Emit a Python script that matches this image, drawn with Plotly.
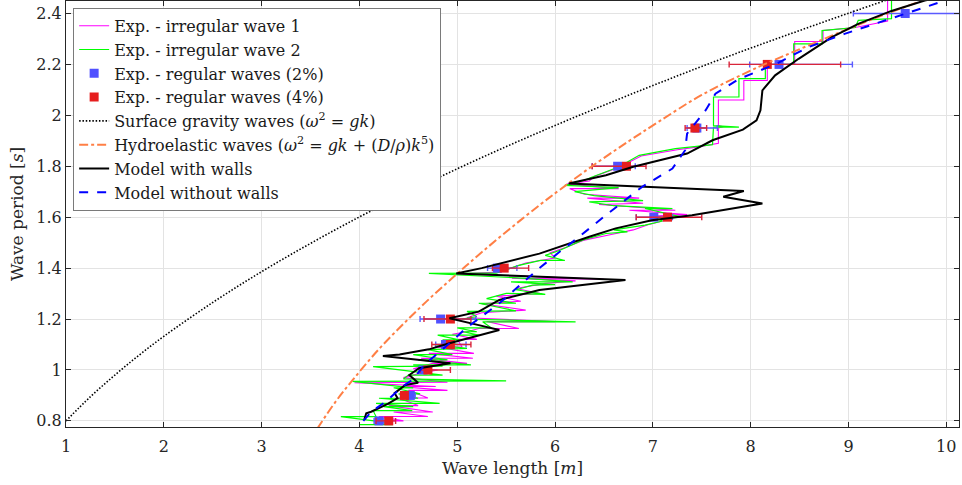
import plotly.graph_objects as go

# ---------------- data ----------------
# Experiments - irregular wave 1 (magenta)
irr1_len = [4.15, 4.45, 4.20, 4.70, 4.35, 4.75, 4.30, 4.60, 4.40, 4.70, 4.50, 4.90, 4.40, 4.78,
            3.95, 4.90, 4.45, 4.60, 4.80, 4.55, 4.75, 5.10, 4.63, 5.16, 4.71, 5.17, 4.80, 5.05,
            5.00, 5.20, 4.95, 5.10, 5.22, 5.63, 5.30, 6.00, 5.10, 5.25, 5.70, 5.25, 5.65, 5.40,
            5.85, 5.60, 5.90, 6.21, 5.56, 6.50, 5.00, 5.45, 5.55, 5.70, 6.00, 5.95, 6.10, 6.30,
            6.55, 6.80, 6.95, 7.15, 7.05, 7.35, 6.76, 7.23, 6.80, 6.45, 6.90, 6.33, 6.86, 6.30,
            6.15, 6.65, 6.12, 6.35, 6.40, 6.65, 6.88, 7.25, 7.45, 7.67, 7.67, 7.72, 7.67, 7.67,
            7.93, 7.93, 8.17, 8.17, 8.45, 8.45, 8.74, 8.74, 9.07, 9.40, 9.40]
irr1_T = [0.800, 0.800, 0.817, 0.817, 0.835, 0.835, 0.860, 0.860, 0.890, 0.890, 0.920, 0.920, 0.935, 0.935,
          0.950, 0.952, 0.970, 0.985, 1.000, 1.005, 1.026, 1.026, 1.046, 1.046, 1.065, 1.065, 1.090, 1.090,
          1.120, 1.120, 1.140, 1.150, 1.163, 1.163, 1.190, 1.190, 1.205, 1.225, 1.235, 1.260, 1.270, 1.290,
          1.300, 1.320, 1.340, 1.350, 1.360, 1.356, 1.378, 1.385, 1.400, 1.420, 1.440, 1.460, 1.480, 1.510,
          1.530, 1.550, 1.570, 1.590, 1.605, 1.610, 1.627, 1.627, 1.640, 1.650, 1.655, 1.675, 1.675, 1.690,
          1.712, 1.712, 1.730, 1.742, 1.760, 1.795, 1.840, 1.865, 1.875, 1.890, 1.950, 1.955, 1.960, 2.060,
          2.060, 2.137, 2.137, 2.200, 2.200, 2.290, 2.290, 2.333, 2.345, 2.370, 2.460]

# Experiments - irregular wave 2 (green)
irr2_len = [4.00, 4.34, 4.15, 3.81, 4.17, 4.14, 4.54, 4.25, 4.55, 4.17, 4.82, 4.20, 4.60, 4.40,
            4.62, 4.35, 4.55, 3.93, 5.50, 4.45, 4.50, 4.85, 4.14, 4.85, 4.55, 5.14, 4.60, 4.90,
            4.55, 4.95, 4.70, 5.10, 4.75, 5.00, 4.85, 5.02, 4.80, 5.22, 5.06, 5.20, 5.00, 5.35,
            5.26, 6.21, 5.05, 5.20, 5.10, 5.60, 5.22, 5.60, 5.30, 5.50, 5.90, 5.60, 5.77, 6.00,
            5.55, 6.18, 5.70, 4.71, 5.40, 5.50, 5.62, 5.85, 6.10, 5.90, 6.05, 6.28, 6.52, 6.74,
            6.60, 6.92, 7.10, 7.00, 7.30, 6.92, 7.20, 6.60, 6.35, 6.90, 6.40, 6.20, 6.65, 6.10,
            6.30, 6.38, 6.65, 6.86, 7.23, 7.40, 7.61, 7.62, 7.88, 7.62, 7.62, 7.88, 7.88, 8.15,
            8.15, 8.44, 8.44, 8.73, 8.73, 9.07, 9.10, 9.44, 9.44, 9.64]
irr2_T = [0.785, 0.785, 0.800, 0.817, 0.817, 0.840, 0.840, 0.856, 0.856, 0.869, 0.869, 0.889, 0.889, 0.906,
          0.906, 0.930, 0.930, 0.955, 0.957, 0.965, 0.980, 0.980, 1.013, 1.015, 1.020, 1.020, 1.040, 1.040,
          1.060, 1.060, 1.080, 1.085, 1.100, 1.100, 1.118, 1.118, 1.137, 1.137, 1.150, 1.150, 1.165, 1.165,
          1.189, 1.189, 1.200, 1.210, 1.230, 1.232, 1.262, 1.262, 1.280, 1.301, 1.297, 1.315, 1.333, 1.335,
          1.346, 1.346, 1.360, 1.379, 1.380, 1.395, 1.410, 1.430, 1.430, 1.450, 1.470, 1.510, 1.536, 1.542,
          1.550, 1.569, 1.585, 1.600, 1.600, 1.634, 1.634, 1.645, 1.660, 1.665, 1.685, 1.700, 1.716, 1.725,
          1.745, 1.758, 1.797, 1.843, 1.869, 1.876, 1.885, 1.954, 1.954, 1.960, 2.072, 2.072, 2.144, 2.144,
          2.200, 2.200, 2.281, 2.281, 2.333, 2.345, 2.373, 2.380, 2.451, 2.451]

# Experiments - regular waves
reg_T_2 = [0.8, 0.9, 1.0, 1.1, 1.2, 1.4, 1.6, 1.8, 1.95, 2.2, 2.4]
reg_len_2 = [4.20, 4.52, 4.65, 4.88, 4.83, 5.41, 7.01, 6.64, 7.45, 8.29, 9.58]
reg_err_minus_2 = [0.05, 0.10, 0.04, 0.10, 0.21, 0.10, 0.18, 0.26, 0.10, 0.30, 0.53]
reg_err_plus_2 = [0.05, 0.05, 0.05, 0.21, 0.36, 0.20, 0.19, 0.18, 0.21, 0.75, 0.70]

reg_T_4 = [0.8, 0.9, 1.0, 1.1, 1.2, 1.4, 1.6, 1.8, 1.95, 2.2]
reg_len_4 = [4.30, 4.46, 4.70, 4.93, 4.93, 5.48, 7.15, 6.73, 7.43, 8.17]
reg_err_minus_4 = [0.13, 0.03, 0.08, 0.19, 0.27, 0.12, 0.32, 0.35, 0.10, 0.39]
reg_err_plus_4 = [0.07, 0.03, 0.23, 0.21, 0.21, 0.25, 0.35, 0.20, 0.12, 0.75]

# Surface gravity waves
grav_len = [1.0, 1.25, 1.5, 1.75, 2.0, 2.5, 3.0, 3.5, 4.0, 4.5, 5.0, 5.5, 6.0, 6.5, 7.0, 7.5, 8.0, 8.5, 9.0, 9.5]
grav_T = [0.800, 0.895, 0.980, 1.059, 1.132, 1.265, 1.386, 1.497, 1.601, 1.698, 1.790, 1.877, 1.960, 2.040,
          2.117, 2.192, 2.264, 2.333, 2.401, 2.467]

# Hydroelastic waves
hydro_len = [3.57, 3.75, 3.93, 4.20, 4.50, 4.75, 5.00, 5.25, 5.55, 5.85, 6.05, 6.40, 6.76, 7.06, 7.50,
             8.08, 8.49, 8.90, 9.30, 9.75]
hydro_T = [0.770, 0.872, 0.960, 1.082, 1.200, 1.292, 1.378, 1.462, 1.558, 1.650, 1.708, 1.806, 1.900, 1.975,
           2.080, 2.190, 2.258, 2.324, 2.386, 2.450]

# Model with walls
walls_len = [4.05, 4.07, 4.12, 4.29, 4.39, 4.36, 4.47, 4.60, 4.51, 4.61, 4.93, 4.24, 4.41, 4.71, 4.92,
             5.43, 5.22, 4.92, 5.22, 5.43, 5.84, 6.72, 4.99, 5.25, 5.84, 6.14, 6.35, 6.62, 6.99, 7.40,
             8.12, 7.72, 7.93, 6.14, 6.52, 6.80, 7.35, 7.61, 7.92, 8.06, 8.10, 8.12, 8.25, 8.49, 8.83,
             9.10, 9.44, 9.78, 10.10]
walls_T = [0.805, 0.830, 0.836, 0.867, 0.889, 0.909, 0.941, 0.950, 0.980, 1.007, 1.026, 1.055, 1.061, 1.081,
           1.105, 1.157, 1.176, 1.203, 1.229, 1.275, 1.314, 1.353, 1.379, 1.400, 1.457, 1.497, 1.523, 1.556,
           1.588, 1.608, 1.654, 1.680, 1.703, 1.732, 1.765, 1.798, 1.850, 1.902, 1.944, 1.980, 2.020, 2.098,
           2.157, 2.222, 2.307, 2.359, 2.410, 2.451, 2.475]

# Model without walls
nowalls_len = [4.04, 4.12, 4.27, 4.44, 4.54, 4.68, 4.88, 5.09, 5.43, 5.70, 5.84, 6.07, 6.18, 6.52, 6.89,
               7.20, 7.33, 7.35, 7.54, 7.64, 7.88, 8.25, 8.59, 8.96, 9.37, 9.58, 9.99, 10.20]
nowalls_T = [0.800, 0.836, 0.876, 0.935, 0.961, 1.026, 1.091, 1.164, 1.262, 1.353, 1.400, 1.471, 1.503, 1.608,
             1.719, 1.791, 1.863, 1.928, 2.020, 2.085, 2.143, 2.200, 2.268, 2.320, 2.373, 2.399, 2.451, 2.470]

x_ticks = [1, 2, 3, 4, 5, 6, 7, 8, 9, 10]
y_ticks = [0.8, 1.0, 1.2, 1.4, 1.6, 1.8, 2.0, 2.2, 2.4]
y_tick_labels = ["0.8", "1", "1.2", "1.4", "1.6", "1.8", "2", "2.2", "2.4"]

# ---------------- figure ----------------
FONT = "DejaVu Serif"
TXT = "#262626"
fig = go.Figure()

fig.add_trace(go.Scatter(x=irr1_len, y=irr1_T, mode="lines", name="Exp. - irregular wave 1",
                         line=dict(color="#ff00ff", width=1.1)))
fig.add_trace(go.Scatter(x=irr2_len, y=irr2_T, mode="lines", name="Exp. - irregular wave 2",
                         line=dict(color="#00ff00", width=1.2)))
fig.add_trace(go.Scatter(x=reg_len_2, y=reg_T_2, mode="markers", name="Exp. - regular waves (2%)",
                         marker=dict(symbol="square", size=9, color="#5050ff"),
                         error_x=dict(type="data", symmetric=False, array=reg_err_plus_2,
                                      arrayminus=reg_err_minus_2, color="#5a5aff", thickness=1.4, width=3)))
fig.add_trace(go.Scatter(x=reg_len_4, y=reg_T_4, mode="markers", name="Exp. - regular waves (4%)",
                         marker=dict(symbol="square", size=9, color="#e61e1e"),
                         error_x=dict(type="data", symmetric=False, array=reg_err_plus_4,
                                      arrayminus=reg_err_minus_4, color="#d9253a", thickness=1.4, width=3)))
fig.add_trace(go.Scatter(x=grav_len, y=grav_T, mode="lines", line_shape="spline",
                         name="Surface gravity waves (<i>ω</i><sup>2</sup> = <i>gk</i>)",
                         line=dict(color="black", width=1.6, dash="1.5px,1.8px")))
fig.add_trace(go.Scatter(x=hydro_len, y=hydro_T, mode="lines", line_shape="spline",
                         name="Hydroelastic waves (<i>ω</i><sup>2</sup> = <i>gk</i> + (<i>D</i>/<i>ρ</i>)<i>k</i><sup>5</sup>)",
                         line=dict(color="#ff7f45", width=2, dash="dashdot")))
fig.add_trace(go.Scatter(x=walls_len, y=walls_T, mode="lines", name="Model with walls",
                         line=dict(color="black", width=2)))
fig.add_trace(go.Scatter(x=nowalls_len, y=nowalls_T, mode="lines", name="Model without walls",
                         line=dict(color="#0000ff", width=2, dash="dash")))

axis_common = dict(showline=True, linecolor=TXT, linewidth=1, mirror="ticks",
                   ticks="inside", ticklen=5, tickcolor=TXT,
                   showgrid=True, gridcolor="#e3e3e3", gridwidth=1, zeroline=False,
                   automargin=False,
                   tickfont=dict(family=FONT, size=16, color=TXT))

fig.update_layout(
    width=962, height=485,
    margin=dict(l=66, r=3, t=1, b=58),
    paper_bgcolor="white", plot_bgcolor="white",
    font=dict(family=FONT, size=16, color=TXT),
    showlegend=True,
    legend=dict(x=0.008, y=0.984, xanchor="left", yanchor="top",
                bgcolor="white", bordercolor="#7a7a7a", borderwidth=1,
                font=dict(family=FONT, size=16, color="#1a1a1a"),
                tracegroupgap=0, itemwidth=30),
    xaxis=dict(range=[1, 10.13], tickvals=x_ticks, ticklabelstandoff=5,
               title=dict(text="Wave length [<i>m</i>]", font=dict(family=FONT, size=17, color=TXT),
                          standoff=6),
               **axis_common),
    yaxis=dict(range=[0.776, 2.449], tickvals=y_ticks, ticktext=y_tick_labels,
               title=dict(text="Wave period [<i>s</i>]", font=dict(family=FONT, size=17, color=TXT),
                          standoff=8),
               **axis_common),
)

fig.write_html("out.html", config={"displayModeBar": False},
               post_script="document.body.style.margin='0px';")
